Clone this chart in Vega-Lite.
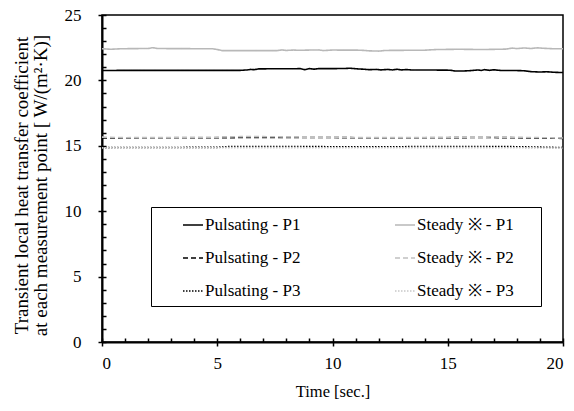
{
  "$schema": "https://vega.github.io/schema/vega-lite/v6.json",
  "width": 461,
  "height": 327,
  "autosize": {"type": "none"},
  "padding": {"left": 102, "top": 15, "right": 11, "bottom": 69},
  "background": "white",
  "config": {
    "font": "Liberation Serif",
    "view": {"stroke": "#000", "strokeWidth": 1.5},
    "axis": {
      "grid": false,
      "domainColor": "#000",
      "domainWidth": 2,
      "tickColor": "#000",
      "tickWidth": 1.5,
      "labelColor": "#000",
      "titleColor": "#000"
    }
  },
  "datasets": {
    "d": [
      {"t": 0, "series": "Pulsating - P1", "v": 20.76},
      {"t": 0.5, "series": "Pulsating - P1", "v": 20.76},
      {"t": 1, "series": "Pulsating - P1", "v": 20.77},
      {"t": 2, "series": "Pulsating - P1", "v": 20.77},
      {"t": 3, "series": "Pulsating - P1", "v": 20.77},
      {"t": 4, "series": "Pulsating - P1", "v": 20.77},
      {"t": 5, "series": "Pulsating - P1", "v": 20.77},
      {"t": 6, "series": "Pulsating - P1", "v": 20.77},
      {"t": 6.3, "series": "Pulsating - P1", "v": 20.8},
      {"t": 6.45, "series": "Pulsating - P1", "v": 20.84},
      {"t": 6.6, "series": "Pulsating - P1", "v": 20.82},
      {"t": 6.8, "series": "Pulsating - P1", "v": 20.88},
      {"t": 7.5, "series": "Pulsating - P1", "v": 20.89},
      {"t": 8.2, "series": "Pulsating - P1", "v": 20.89},
      {"t": 8.6, "series": "Pulsating - P1", "v": 20.9},
      {"t": 8.8, "series": "Pulsating - P1", "v": 20.82},
      {"t": 9.0, "series": "Pulsating - P1", "v": 20.9},
      {"t": 9.2, "series": "Pulsating - P1", "v": 20.86},
      {"t": 9.4, "series": "Pulsating - P1", "v": 20.9},
      {"t": 10, "series": "Pulsating - P1", "v": 20.9},
      {"t": 10.5, "series": "Pulsating - P1", "v": 20.91},
      {"t": 10.75, "series": "Pulsating - P1", "v": 20.93},
      {"t": 11, "series": "Pulsating - P1", "v": 20.89},
      {"t": 11.4, "series": "Pulsating - P1", "v": 20.85},
      {"t": 11.6, "series": "Pulsating - P1", "v": 20.82},
      {"t": 11.9, "series": "Pulsating - P1", "v": 20.84},
      {"t": 12.1, "series": "Pulsating - P1", "v": 20.8},
      {"t": 12.4, "series": "Pulsating - P1", "v": 20.84},
      {"t": 12.6, "series": "Pulsating - P1", "v": 20.8},
      {"t": 12.8, "series": "Pulsating - P1", "v": 20.85},
      {"t": 13.0, "series": "Pulsating - P1", "v": 20.8},
      {"t": 13.2, "series": "Pulsating - P1", "v": 20.83},
      {"t": 13.5, "series": "Pulsating - P1", "v": 20.79},
      {"t": 14.5, "series": "Pulsating - P1", "v": 20.79},
      {"t": 15.1, "series": "Pulsating - P1", "v": 20.78},
      {"t": 15.3, "series": "Pulsating - P1", "v": 20.72},
      {"t": 15.7, "series": "Pulsating - P1", "v": 20.72},
      {"t": 16.0, "series": "Pulsating - P1", "v": 20.75},
      {"t": 16.3, "series": "Pulsating - P1", "v": 20.8},
      {"t": 16.45, "series": "Pulsating - P1", "v": 20.76},
      {"t": 16.6, "series": "Pulsating - P1", "v": 20.82},
      {"t": 16.8, "series": "Pulsating - P1", "v": 20.77},
      {"t": 17.0, "series": "Pulsating - P1", "v": 20.81},
      {"t": 17.3, "series": "Pulsating - P1", "v": 20.76},
      {"t": 17.8, "series": "Pulsating - P1", "v": 20.76},
      {"t": 18.3, "series": "Pulsating - P1", "v": 20.74},
      {"t": 18.6, "series": "Pulsating - P1", "v": 20.67},
      {"t": 19.0, "series": "Pulsating - P1", "v": 20.64},
      {"t": 19.3, "series": "Pulsating - P1", "v": 20.66},
      {"t": 19.6, "series": "Pulsating - P1", "v": 20.62},
      {"t": 20, "series": "Pulsating - P1", "v": 20.6},

      {"t": 0, "series": "Steady ※ - P1", "v": 22.42},
      {"t": 0.4, "series": "Steady ※ - P1", "v": 22.38},
      {"t": 0.8, "series": "Steady ※ - P1", "v": 22.42},
      {"t": 2.0, "series": "Steady ※ - P1", "v": 22.44},
      {"t": 2.2, "series": "Steady ※ - P1", "v": 22.5},
      {"t": 2.4, "series": "Steady ※ - P1", "v": 22.44},
      {"t": 3, "series": "Steady ※ - P1", "v": 22.43},
      {"t": 4.8, "series": "Steady ※ - P1", "v": 22.42},
      {"t": 5.0, "series": "Steady ※ - P1", "v": 22.36},
      {"t": 5.2, "series": "Steady ※ - P1", "v": 22.28},
      {"t": 7.6, "series": "Steady ※ - P1", "v": 22.28},
      {"t": 7.8, "series": "Steady ※ - P1", "v": 22.33},
      {"t": 8.0, "series": "Steady ※ - P1", "v": 22.29},
      {"t": 8.3, "series": "Steady ※ - P1", "v": 22.32},
      {"t": 8.6, "series": "Steady ※ - P1", "v": 22.3},
      {"t": 9.0, "series": "Steady ※ - P1", "v": 22.32},
      {"t": 9.4, "series": "Steady ※ - P1", "v": 22.33},
      {"t": 9.6, "series": "Steady ※ - P1", "v": 22.28},
      {"t": 10, "series": "Steady ※ - P1", "v": 22.32},
      {"t": 11.2, "series": "Steady ※ - P1", "v": 22.31},
      {"t": 11.6, "series": "Steady ※ - P1", "v": 22.26},
      {"t": 12.0, "series": "Steady ※ - P1", "v": 22.24},
      {"t": 12.3, "series": "Steady ※ - P1", "v": 22.29},
      {"t": 14, "series": "Steady ※ - P1", "v": 22.31},
      {"t": 14.5, "series": "Steady ※ - P1", "v": 22.36},
      {"t": 15.5, "series": "Steady ※ - P1", "v": 22.38},
      {"t": 16.5, "series": "Steady ※ - P1", "v": 22.36},
      {"t": 17.5, "series": "Steady ※ - P1", "v": 22.39},
      {"t": 17.8, "series": "Steady ※ - P1", "v": 22.47},
      {"t": 18.0, "series": "Steady ※ - P1", "v": 22.43},
      {"t": 18.3, "series": "Steady ※ - P1", "v": 22.48},
      {"t": 18.6, "series": "Steady ※ - P1", "v": 22.44},
      {"t": 18.9, "series": "Steady ※ - P1", "v": 22.49},
      {"t": 19.2, "series": "Steady ※ - P1", "v": 22.45},
      {"t": 19.6, "series": "Steady ※ - P1", "v": 22.42},
      {"t": 20, "series": "Steady ※ - P1", "v": 22.42},

      {"t": 0, "series": "Pulsating - P2", "v": 15.6},
      {"t": 1, "series": "Pulsating - P2", "v": 15.6},
      {"t": 2, "series": "Pulsating - P2", "v": 15.62},
      {"t": 3, "series": "Pulsating - P2", "v": 15.62},
      {"t": 4, "series": "Pulsating - P2", "v": 15.62},
      {"t": 5, "series": "Pulsating - P2", "v": 15.62},
      {"t": 6, "series": "Pulsating - P2", "v": 15.63},
      {"t": 7, "series": "Pulsating - P2", "v": 15.64},
      {"t": 8, "series": "Pulsating - P2", "v": 15.64},
      {"t": 9, "series": "Pulsating - P2", "v": 15.63},
      {"t": 10, "series": "Pulsating - P2", "v": 15.63},
      {"t": 11, "series": "Pulsating - P2", "v": 15.62},
      {"t": 12, "series": "Pulsating - P2", "v": 15.62},
      {"t": 13, "series": "Pulsating - P2", "v": 15.62},
      {"t": 14, "series": "Pulsating - P2", "v": 15.62},
      {"t": 15, "series": "Pulsating - P2", "v": 15.62},
      {"t": 16, "series": "Pulsating - P2", "v": 15.63},
      {"t": 17, "series": "Pulsating - P2", "v": 15.63},
      {"t": 18, "series": "Pulsating - P2", "v": 15.62},
      {"t": 19, "series": "Pulsating - P2", "v": 15.58},
      {"t": 20, "series": "Pulsating - P2", "v": 15.57},

      {"t": 0, "series": "Steady ※ - P2", "v": 15.66},
      {"t": 1, "series": "Steady ※ - P2", "v": 15.62},
      {"t": 2, "series": "Steady ※ - P2", "v": 15.64},
      {"t": 3, "series": "Steady ※ - P2", "v": 15.64},
      {"t": 4, "series": "Steady ※ - P2", "v": 15.65},
      {"t": 5, "series": "Steady ※ - P2", "v": 15.66},
      {"t": 6, "series": "Steady ※ - P2", "v": 15.7},
      {"t": 7, "series": "Steady ※ - P2", "v": 15.7},
      {"t": 8, "series": "Steady ※ - P2", "v": 15.68},
      {"t": 9, "series": "Steady ※ - P2", "v": 15.66},
      {"t": 10, "series": "Steady ※ - P2", "v": 15.64},
      {"t": 11, "series": "Steady ※ - P2", "v": 15.64},
      {"t": 12, "series": "Steady ※ - P2", "v": 15.63},
      {"t": 13, "series": "Steady ※ - P2", "v": 15.63},
      {"t": 14, "series": "Steady ※ - P2", "v": 15.64},
      {"t": 15, "series": "Steady ※ - P2", "v": 15.65},
      {"t": 16, "series": "Steady ※ - P2", "v": 15.66},
      {"t": 17, "series": "Steady ※ - P2", "v": 15.67},
      {"t": 18, "series": "Steady ※ - P2", "v": 15.65},
      {"t": 19, "series": "Steady ※ - P2", "v": 15.62},
      {"t": 20, "series": "Steady ※ - P2", "v": 15.6},

      {"t": 0, "series": "Pulsating - P3", "v": 14.86},
      {"t": 1, "series": "Pulsating - P3", "v": 14.87},
      {"t": 2, "series": "Pulsating - P3", "v": 14.87},
      {"t": 3, "series": "Pulsating - P3", "v": 14.87},
      {"t": 4, "series": "Pulsating - P3", "v": 14.88},
      {"t": 5, "series": "Pulsating - P3", "v": 14.88},
      {"t": 5.5, "series": "Pulsating - P3", "v": 14.94},
      {"t": 6, "series": "Pulsating - P3", "v": 14.95},
      {"t": 7, "series": "Pulsating - P3", "v": 14.95},
      {"t": 8, "series": "Pulsating - P3", "v": 14.95},
      {"t": 9, "series": "Pulsating - P3", "v": 14.94},
      {"t": 10, "series": "Pulsating - P3", "v": 14.93},
      {"t": 11, "series": "Pulsating - P3", "v": 14.92},
      {"t": 12, "series": "Pulsating - P3", "v": 14.92},
      {"t": 13, "series": "Pulsating - P3", "v": 14.93},
      {"t": 14, "series": "Pulsating - P3", "v": 14.95},
      {"t": 15, "series": "Pulsating - P3", "v": 14.95},
      {"t": 16, "series": "Pulsating - P3", "v": 14.95},
      {"t": 17, "series": "Pulsating - P3", "v": 14.95},
      {"t": 18, "series": "Pulsating - P3", "v": 14.93},
      {"t": 19, "series": "Pulsating - P3", "v": 14.9},
      {"t": 20, "series": "Pulsating - P3", "v": 14.86},

      {"t": 0, "series": "Steady ※ - P3", "v": 14.84},
      {"t": 2, "series": "Steady ※ - P3", "v": 14.85},
      {"t": 4, "series": "Steady ※ - P3", "v": 14.85},
      {"t": 6, "series": "Steady ※ - P3", "v": 14.86},
      {"t": 8, "series": "Steady ※ - P3", "v": 14.86},
      {"t": 10, "series": "Steady ※ - P3", "v": 14.85},
      {"t": 12, "series": "Steady ※ - P3", "v": 14.85},
      {"t": 14, "series": "Steady ※ - P3", "v": 14.86},
      {"t": 16, "series": "Steady ※ - P3", "v": 14.86},
      {"t": 18, "series": "Steady ※ - P3", "v": 14.85},
      {"t": 20, "series": "Steady ※ - P3", "v": 14.82}
    ]
  },
  "data": {"name": "d"},
  "layer": [
    {
      "mark": {"type": "point", "opacity": 0},
      "encoding": {
        "x": {
          "field": "t", "type": "quantitative",
          "scale": {"domain": [0, 20], "nice": false, "zero": false},
          "axis": {
            "orient": "bottom",
            "values": [0, 1, 2, 3, 4, 5, 6, 7, 8, 9, 10, 11, 12, 13, 14, 15, 16, 17, 18, 19, 20],
            "tickSize": -4,
            "labels": false,
            "domain": false,
            "title": null
          }
        },
        "y": {
          "field": "v", "type": "quantitative",
          "scale": {"domain": [0, 25], "nice": false, "zero": false},
          "axis": {
            "orient": "left",
            "values": [0, 1, 2, 3, 4, 5, 6, 7, 8, 9, 10, 11, 12, 13, 14, 15, 16, 17, 18, 19, 20, 21, 22, 23, 24, 25],
            "tickSize": -4,
            "labels": false,
            "domain": false,
            "title": null
          }
        }
      }
    },
    {
      "mark": {"type": "line", "strokeWidth": 1.6},
      "encoding": {
        "x": {
          "field": "t", "type": "quantitative",
          "axis": {
            "orient": "bottom",
            "values": [0, 5, 10, 15, 20],
            "tickSize": 4,
            "labelPadding": 9,
            "labelFont": "Liberation Serif",
            "labelFontSize": 17,
            "labelFontWeight": "normal",
            "title": "Time [sec.]",
            "titleFont": "Liberation Serif",
            "titleFontSize": 16.5,
            "titleFontWeight": "normal",
            "titlePadding": 12
          }
        },
        "y": {
          "field": "v", "type": "quantitative",
          "axis": {
            "orient": "left",
            "values": [0, 5, 10, 15, 20, 25],
            "tickSize": 4,
            "labelPadding": 17,
            "labelFont": "Liberation Serif",
            "labelFontSize": 17,
            "labelFontWeight": "normal",
            "title": ["Transient  local heat transfer coefficient", "at each measurement  point [ W/(m²·K)]"],
            "titleFont": "Liberation Serif",
            "titleFontSize": 19,
            "titleFontWeight": "normal",
            "titleAngle": -90,
            "titleAlign": "center",
            "titleBaseline": "middle",
            "titleX": -81,
            "titleY": 170,
            "titleLineHeight": 19
          }
        },
        "color": {
          "field": "series", "type": "nominal",
          "scale": {
            "domain": ["Pulsating - P1", "Pulsating - P2", "Pulsating - P3", "Steady ※ - P1", "Steady ※ - P2", "Steady ※ - P3"],
            "range": ["#000000", "#000000", "#000000", "#b8b8b8", "#c0c0c0", "#c8c8c8"]
          },
          "legend": {
            "orient": "none",
            "legendX": 49,
            "legendY": 192,
            "title": " ",
            "titleOrient": "right",
            "titleFontSize": 4,
            "titlePadding": 20,
            "columns": 2,
            "columnPadding": 69,
            "rowPadding": 14,
            "padding": 7,
            "symbolOffset": 24,
            "symbolType": "stroke",
            "symbolSize": 400,
            "symbolStrokeWidth": 1.6,
            "labelOffset": 1,
            "labelFont": "Liberation Serif",
            "labelFontSize": 17,
            "labelFontWeight": "normal",
            "labelColor": "#000",
            "strokeColor": "#000",
            "fillColor": "#fff"
          }
        },
        "strokeDash": {
          "field": "series", "type": "nominal",
          "scale": {
            "domain": ["Pulsating - P1", "Pulsating - P2", "Pulsating - P3", "Steady ※ - P1", "Steady ※ - P2", "Steady ※ - P3"],
            "range": [[1, 0], [5, 3], [1.5, 1.5], [1, 0], [5, 3], [1.5, 1.5]]
          }
        }
      }
    }
  ],
  "resolve": {"axis": {"x": "independent", "y": "independent"}}
}
